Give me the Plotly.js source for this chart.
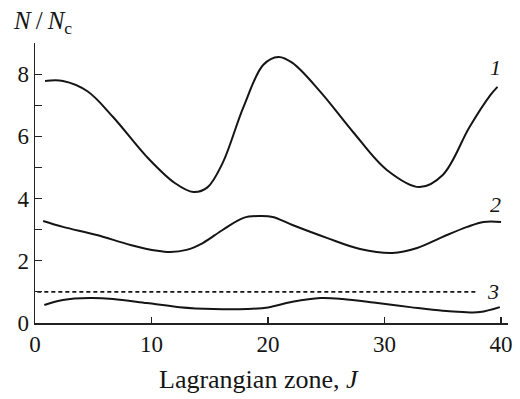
<!DOCTYPE html>
<html>
<head>
<meta charset="utf-8">
<script src="https://cdn.plot.ly/plotly-3.0.1.min.js"></script>
<style>html,body{margin:0;padding:0;background:#fff;}#chart{width:520px;height:399px;}</style>
</head>
<body>
<div id="chart"></div>
<script>
// Curve 1
const j1 = [0.86, 2.4, 4.5, 6.7, 9.6, 12.0, 13.6, 14.8, 16.1, 17.9, 19.6, 20.9, 22.1, 24.5, 27.3, 30.2, 33.0, 35.0, 37.3, 39.1, 39.7];
const n1 = [7.78, 7.78, 7.45, 6.62, 5.34, 4.5, 4.21, 4.36, 5.14, 6.95, 8.3, 8.55, 8.36, 7.43, 6.14, 4.92, 4.37, 4.76, 6.3, 7.33, 7.59];
// Curve 2
const j2 = [0.7, 2.4, 5.3, 8.2, 10.5, 11.6, 13.0, 14.4, 16.1, 17.9, 19.3, 20.4, 22.1, 25.1, 27.9, 30.7, 32.8, 35.0, 37.1, 38.5, 40.0];
const n2 = [3.28, 3.09, 2.83, 2.51, 2.32, 2.28, 2.35, 2.57, 2.99, 3.38, 3.44, 3.41, 3.15, 2.73, 2.38, 2.25, 2.41, 2.77, 3.09, 3.25, 3.25];
// Curve 3 (lower solid)
const j3 = [0.8, 2.4, 4.7, 6.7, 9.6, 12.4, 15.3, 18.2, 20.0, 22.1, 24.5, 26.4, 29.4, 32.2, 35.0, 36.7, 38.2, 39.9];
const n3 = [0.58, 0.74, 0.8, 0.77, 0.64, 0.51, 0.45, 0.45, 0.5, 0.68, 0.8, 0.77, 0.64, 0.51, 0.39, 0.35, 0.35, 0.51];
// Dotted reference level N = Nc
const jRef = [0.2, 37.9];
const nRef = [1, 1];
// Tick labels
const xTicks = [0, 10, 20, 30, 40];
const yTicks = [0, 2, 4, 6, 8];
const yMinor = [1, 3, 5, 7];
const curveLabels = ["1", "2", "3"];
const labelX = [39.5, 39.5, 39.3];
const labelY = [8.2, 3.8, 1.0];

const lineStyle = {color: '#151515', width: 2, shape: 'spline', smoothing: 1.0};
const traces = [
  {x: j1, y: n1, mode: 'lines', line: lineStyle},
  {x: j2, y: n2, mode: 'lines', line: lineStyle},
  {x: j3, y: n3, mode: 'lines', line: lineStyle},
  {x: jRef, y: nRef, mode: 'lines', line: {color: '#151515', width: 1.6, dash: '4px,3px'}}
];

const serif = '"Liberation Serif", "Times New Roman", serif';
const annotations = curveLabels.map((t, i) => ({
  x: labelX[i], y: labelY[i], xref: 'x', yref: 'y', text: '<i>' + t + '</i>',
  showarrow: false, font: {family: serif, size: 22, color: '#151515'}, xanchor: 'center', yanchor: 'middle'
}));
annotations.push({
  xref: 'paper', yref: 'paper', x: -0.05, y: 1.075, xanchor: 'left', yanchor: 'middle',
  text: '<i>N</i>\u2009/\u2009<i>N</i><sub>c</sub>', showarrow: false,
  font: {family: serif, size: 25, color: '#151515'}
});
annotations.push({
  xref: 'paper', yref: 'paper', x: 0.473, y: -0.2, xanchor: 'center', yanchor: 'middle',
  text: 'Lagrangian zone, <i>J</i>', showarrow: false,
  font: {family: serif, size: 26, color: '#151515'}
});

const layout = {
  width: 520, height: 399,
  margin: {l: 35, r: 12, t: 43, b: 76},
  paper_bgcolor: '#fff', plot_bgcolor: '#fff',
  showlegend: false,
  xaxis: {
    range: [0, 40.6], tickvals: xTicks, ticktext: xTicks.map(String),
    ticks: 'inside', ticklen: 6, tickwidth: 1.2, tickcolor: '#222',
    showline: true, linecolor: '#222', linewidth: 1.5, showgrid: false, zeroline: false,
    tickfont: {family: serif, size: 23, color: '#151515'}
  },
  yaxis: {
    range: [0, 9.0], tickvals: yTicks, ticktext: yTicks.map(String),
    ticks: 'inside', ticklen: 7, tickwidth: 1.2, tickcolor: '#222',
    minor: {tickvals: yMinor, ticks: 'inside', ticklen: 7, tickwidth: 1.2, tickcolor: '#222'},
    showline: true, linecolor: '#222', linewidth: 1.5, showgrid: false, zeroline: false,
    tickfont: {family: serif, size: 23, color: '#151515'}
  },
  annotations: annotations
};

Plotly.newPlot('chart', traces, layout, {staticPlot: true, displayModeBar: false});
</script>
</body>
</html>
